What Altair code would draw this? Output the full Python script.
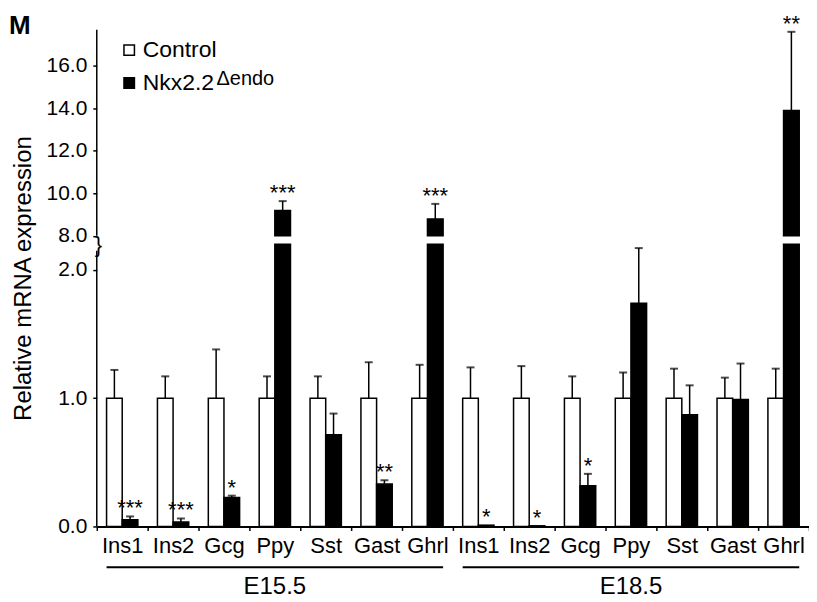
import altair as alt
import pandas as pd

FONT = "Liberation Sans"

genes = ["Ins1", "Ins2", "Gcg", "Ppy", "Sst", "Gast", "Ghrl"]
stages = ["E15.5", "E18.5"]
series = ["Control", "Nkx2.2Δendo"]

# 14 groups: E15.5 genes then E18.5 genes
ctrl_mean = [1.0, 1.0, 1.0, 1.0, 1.0, 1.0, 1.0, 1.0, 1.0, 1.0, 1.0, 1.0, 1.0, 1.0]
ctrl_err = [0.22, 0.17, 0.38, 0.17, 0.17, 0.28, 0.26, 0.24, 0.25, 0.17, 0.20, 0.23, 0.16, 0.23]
nkx_mean = [0.052, 0.034, 0.226, 9.19, 0.714, 0.33, 8.79, 0.01, 0.005, 0.317, 1.74, 0.87, 0.99, 13.9]
nkx_err = [0.026, 0.028, 0.014, 0.44, 0.166, 0.03, 0.71, 0.0, 0.0, 0.093, 0.43, 0.23, 0.28, 3.7]
signif = ["***", "***", "*", "***", "", "**", "***", "*", "*", "*", "", "", "", "**"]

yticks = [0, 1, 2, 8, 10, 12, 14, 16]

# broken axis: lower segment 0..LOW_TOP, upper segment HIGH_BOT..TOP
LOW_TOP, HIGH_BOT, TOP = 2.2, 8.0, 17.7
W, H = 714, 498
LOW_PX = 128.6
GAP_PX = 8.5
low_top_px = H - LOW_TOP * LOW_PX
y_range = [H, low_top_px, low_top_px - GAP_PX, 0]

rows = []
keys = []
for si, st in enumerate(stages):
    for gi, g in enumerate(genes):
        k = si * len(genes) + gi
        key = f"{st}|{g}"
        keys.append(key)
        rows.append(dict(key=key, gene=g, stage=st, series=series[0],
                         value=ctrl_mean[k], err=ctrl_err[k], sig=""))
        rows.append(dict(key=key, gene=g, stage=st, series=series[1],
                         value=nkx_mean[k], err=nkx_err[k], sig=signif[k]))
df = pd.DataFrame(rows)

OFF_PAD = 0.625
x_scale = alt.Scale(domain=keys, paddingInner=0, paddingOuter=0)
off_scale = alt.Scale(domain=series, paddingInner=0, paddingOuter=OFF_PAD)
y_scale = alt.Scale(domain=[0, LOW_TOP, HIGH_BOT, TOP], range=y_range, nice=False, zero=False)

x_axis = alt.Axis(title=None, labelExpr="split(datum.value, '|')[1]", labelAngle=0,
                  labelFontSize=22, labelFont=FONT, labelColor="black", labelPadding=5,
                  tickBand="extent", tickSize=4, tickWidth=1.5, tickColor="black",
                  domainColor="black", domainWidth=2, grid=False)
y_axis = alt.Axis(values=yticks, format=".1f", domain=False, tickSize=4, tickWidth=1.5,
                  tickColor="black", labelFontSize=21, labelFont=FONT, labelColor="black",
                  labelPadding=6, grid=False, title="Relative mRNA expression",
                  titleFontSize=24, titleFont=FONT, titleFontWeight="normal", titleColor="black",
                  titleX=-73, titleY=H / 2, titleAlign="center", titleBaseline="middle",
                  titleAngle=270)

X = alt.X("key:N", scale=x_scale, axis=x_axis)
XO = alt.XOffset("series:N", scale=off_scale)

base = alt.Chart(df)

legend = alt.Legend(title=None, orient="none", legendX=21, legendY=9, symbolType="square",
                    symbolSize=110, symbolStrokeColor="black", symbolStrokeWidth=1.5,
                    labelFontSize=23, labelFont=FONT, labelColor="black", labelOffset=2,
                    rowPadding=9, padding=0,
                    labelExpr="datum.label == 'Nkx2.2Δendo' ? 'Nkx2.2' : datum.label")

lower = base.transform_calculate(low_top=f"min(datum.value, {LOW_TOP})").mark_bar(
    stroke="black", strokeWidth=1.5).encode(
    x=X, xOffset=XO,
    y=alt.Y("low_top:Q", scale=y_scale, axis=y_axis),
    fill=alt.Fill("series:N", scale=alt.Scale(domain=series, range=["white", "black"]),
                  legend=legend),
)

upper = base.transform_filter(f"datum.value > {HIGH_BOT}").mark_bar(
    fill="black", stroke="black", strokeWidth=1.5).encode(
    x=X, xOffset=XO,
    y=alt.Y("value:Q", scale=y_scale, axis=y_axis),
    y2=alt.datum(HIGH_BOT),
)

errbase = base.transform_filter("datum.err > 0").transform_calculate(top="datum.value + datum.err")
err_rules = errbase.mark_rule(color="black", strokeWidth=1.5).encode(
    x=X, xOffset=XO, y=alt.Y("value:Q", scale=y_scale, axis=y_axis), y2="top:Q")
err_caps = errbase.mark_tick(color="black", thickness=2, size=8).encode(
    x=X, xOffset=XO, y=alt.Y("top:Q", scale=y_scale, axis=y_axis))

stars = base.transform_filter("datum.sig != ''").transform_calculate(
    top="datum.value + datum.err").mark_text(
    fontSize=22, font=FONT, baseline="alphabetic", dy=-1, color="black").encode(
    x=X, xOffset=XO, y=alt.Y("top:Q", scale=y_scale, axis=y_axis), text="sig:N")

one = pd.DataFrame({"a": [0]})
axis_low = alt.Chart(one).mark_rule(color="black", strokeWidth=1.5).encode(
    x=alt.value(0), y=alt.datum(0, scale=y_scale), y2=alt.datum(LOW_TOP - 0.05))
axis_high = alt.Chart(one).mark_rule(color="black", strokeWidth=1.5).encode(
    x=alt.value(0), y=alt.datum(HIGH_BOT, scale=y_scale), y2=alt.datum(TOP))
brace = alt.Chart(one).mark_text(text="}", fontSize=22, font=FONT, align="left",
                                 baseline="middle", dy=1, color="black").encode(
    x=alt.value(-2), y=alt.datum(LOW_TOP, scale=y_scale))

panel = alt.Chart(one).mark_text(text="M", fontSize=26, fontWeight="bold", font=FONT,
                                 align="left", baseline="alphabetic", color="black").encode(
    x=alt.value(-88), y=alt.value(4))
sup = alt.Chart(one).mark_text(text="Δendo", fontSize=20, font=FONT, align="left",
                               baseline="alphabetic", color="black").encode(
    x=alt.value(120), y=alt.value(55))

n = len(genes)
stage_df = pd.DataFrame({"stage": stages,
                         "start": [i * n for i in range(len(stages))],
                         "end": [(i + 1) * n for i in range(len(stages))]})
inset = OFF_PAD / (2 + 2 * OFF_PAD)
sx = alt.Scale(domain=[0, len(keys)], nice=False, zero=False)
stage_lines = alt.Chart(stage_df).transform_calculate(
    x1=f"datum.start + {inset}", x2=f"datum.end - {inset}").mark_rule(
    color="black", strokeWidth=2).encode(
    x=alt.X("x1:Q", scale=sx, axis=None), x2="x2:Q", y=alt.value(H + 41))
stage_text = alt.Chart(stage_df).transform_calculate(
    mid="(datum.start + datum.end) / 2").mark_text(
    fontSize=24, font=FONT, baseline="alphabetic", color="black").encode(
    x=alt.X("mid:Q", scale=sx, axis=None), y=alt.value(H + 68), text="stage:N")

main = alt.layer(lower, upper, err_rules, err_caps, stars, axis_low, axis_high, brace,
                 panel, sup)
chart = alt.layer(main, stage_lines, stage_text).resolve_scale(x="independent").properties(
    width=W, height=H,
    autosize=alt.AutoSizeParams(type="none"),
    padding={"left": 89, "top": 21, "right": 0, "bottom": 73},
    background="white",
).configure_view(strokeWidth=0)

chart.save("out.html", embed_options={"renderer": "svg", "actions": False})
